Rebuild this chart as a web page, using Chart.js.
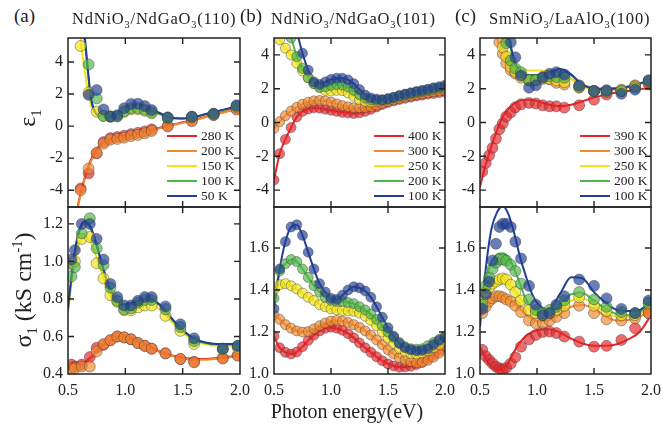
<!DOCTYPE html>
<html><head><meta charset="utf-8">
<script src="https://cdn.jsdelivr.net/npm/chart.js@4.4.1/dist/chart.umd.min.js"></script>
<style>
html,body{margin:0;padding:0;background:#fff;width:663px;height:435px;overflow:hidden;position:relative;font-family:"Liberation Serif","Times New Roman",serif;color:#222;}
canvas{position:absolute;}
.t{position:absolute;white-space:nowrap;z-index:5;line-height:1;}
.t sub{font-size:0.62em;vertical-align:-0.4em;line-height:0;}
.t sup{font-size:0.6em;vertical-align:0.6em;line-height:0;}
.yt{transform:translate(-50%,-50%) rotate(-90deg);font-size:24px;}
.ti{font-size:16.5px;letter-spacing:0.8px;top:11px;}
.lg{position:absolute;z-index:6;font-size:13.5px;}
.lr{height:15px;display:flex;align-items:center;}
.ll{width:30px;height:2.6px;display:inline-block;margin-right:4px;}
</style></head><body>
<div class="t" style="left:14px;top:6px;font-size:19px;">(a)</div>
<div class="t ti" style="left:72px;">NdNiO<sub>3</sub>/NdGaO<sub>3</sub>(110)</div>
<div class="t" style="left:240px;top:6px;font-size:19px;">(b)</div>
<div class="t ti" style="left:271px;">NdNiO<sub>3</sub>/NdGaO<sub>3</sub>(101)</div>
<div class="t" style="left:455px;top:6px;font-size:19px;">(c)</div>
<div class="t ti" style="left:489px;">SmNiO<sub>3</sub>/LaAlO<sub>3</sub>(100)</div>
<div class="t yt" style="left:27px;top:118px;">ε<sub>1</sub></div>
<div class="t yt" style="left:23px;top:290px;">σ<sub>1</sub> (kS cm<sup>-1</sup>)</div>
<div class="t" style="left:347px;top:411px;transform:translate(-50%,-50%);font-size:20px;">Photon energy(eV)</div>
<script>
// ---------- shared ----------
const COLORS = ['#e8252a','#f28a2e','#f2e31b','#4fb748','#223f98'];
const X_TICKS = [0.5,1.0,1.5,2.0];
const EPS_TICKS = [-4,-2,0,2,4];
const A_SIG_TICKS = [0.4,0.6,0.8,1.0,1.2];
const BC_SIG_TICKS = [1.0,1.2,1.4,1.6];
const A_TEMPS = ['280 K','200 K','150 K','100 K','50 K'];
const B_TEMPS = ['400 K','300 K','250 K','200 K','100 K'];
const C_TEMPS = ['390 K','300 K','250 K','200 K','100 K'];
const FIT_X = [0.5,0.55,0.6,0.65,0.7,0.75,0.8,0.85,0.9,0.95,1.0,1.1,1.2,1.3,1.4,1.5,1.6,1.7,1.8,1.9,2.0];

// ---------- panel (a) ----------
const A_EPS_FIT_280 = [-9,-6.4,-4.5,-3.1,-2.1,-1.45,-1.02,-0.84,-0.73,-0.65,-0.58,-0.44,-0.28,-0.1,0.08,0.24,0.4,0.59,0.79,0.97,1.14];
const A_EPS_FIT_200 = [-9,-6.5,-4.6,-3.2,-2.2,-1.55,-1.1,-0.9,-0.78,-0.7,-0.62,-0.48,-0.32,-0.14,0.04,0.2,0.36,0.55,0.75,0.93,1.1];
const A_EPS_FIT_150 = [18,11,6.2,3.2,1.3,0.7,0.6,0.58,0.64,0.78,0.95,1.08,0.95,0.72,0.5,0.47,0.55,0.73,0.91,1.07,1.23];
const A_EPS_FIT_100 = [20,14,8.3,5.0,1.7,0.72,0.6,0.58,0.66,0.82,1.0,1.15,1.0,0.75,0.5,0.47,0.55,0.74,0.92,1.08,1.24];
const A_EPS_FIT_50  = [20,14,8.5,5.3,1.8,0.75,0.62,0.6,0.7,0.9,1.15,1.35,1.15,0.82,0.52,0.48,0.56,0.75,0.93,1.1,1.27];
const A_EPS_X   = [0.61,0.68,0.75,0.81,0.87,0.93,0.99,1.05,1.11,1.17,1.23,1.37,1.58,1.77,1.97];
const A_EPS_280 = [-3.9,-2.95,-1.7,-1.0,-0.75,-0.68,-0.6,-0.5,-0.42,-0.33,-0.2,0.02,0.35,0.72,1.08];
const A_EPS_200 = [-4.0,-2.65,-1.67,-1.1,-0.85,-0.8,-0.72,-0.62,-0.55,-0.45,-0.3,-0.02,0.3,0.68,1.03];
const A_EPS_150 = [5.0,2.1,0.9,0.65,0.58,0.6,0.9,1.05,1.05,0.95,0.8,0.5,0.55,0.72,1.2];
const A_EPS_100 = [null,3.85,1.73,0.63,0.6,0.62,0.92,1.12,1.12,1.02,0.86,0.5,0.57,0.75,1.25];
const A_EPS_50  = [null,1.95,2.25,1.04,0.6,0.68,1.12,1.38,1.4,1.25,1.0,0.55,0.6,0.78,1.3];

const A_SIG_FIT_280 = [0.45,0.445,0.45,0.465,0.49,0.52,0.55,0.572,0.59,0.598,0.598,0.578,0.548,0.52,0.5,0.487,0.48,0.48,0.485,0.492,0.5];
const A_SIG_FIT_200 = [0.43,0.435,0.442,0.457,0.483,0.515,0.545,0.568,0.585,0.594,0.595,0.575,0.545,0.517,0.497,0.483,0.476,0.476,0.481,0.488,0.497];
const A_SIG_FIT_150 = [0.73,0.97,1.1,1.13,1.1,1.02,0.93,0.84,0.785,0.755,0.745,0.76,0.77,0.745,0.68,0.62,0.578,0.558,0.55,0.55,0.552];
const A_SIG_FIT_100 = [0.74,1.0,1.16,1.205,1.17,1.08,0.97,0.87,0.805,0.77,0.76,0.78,0.795,0.765,0.695,0.63,0.585,0.565,0.557,0.557,0.56];
const A_SIG_FIT_50  = [0.755,1.02,1.17,1.215,1.18,1.09,0.98,0.88,0.815,0.78,0.77,0.79,0.805,0.77,0.7,0.635,0.59,0.568,0.56,0.56,0.562];
const A_SIG_X   = [0.53,0.56,0.62,0.69,0.75,0.81,0.87,0.93,0.99,1.05,1.11,1.17,1.23,1.35,1.48,1.6,1.85,1.98];
const A_SIG_280 = [0.45,0.44,0.45,0.49,0.54,0.555,0.58,0.6,0.595,0.585,0.565,0.55,0.535,0.51,0.48,0.465,0.485,0.5];
const A_SIG_200 = [0.43,0.43,0.44,0.44,0.52,0.56,0.58,0.6,0.595,0.585,0.565,0.55,0.535,0.51,0.48,0.462,0.482,0.498];
const A_SIG_150 = [0.99,1.0,1.12,1.13,0.99,0.91,0.82,0.785,0.74,0.74,0.755,0.765,0.765,0.71,0.63,0.56,0.53,0.54];
const A_SIG_100 = [0.92,0.97,1.15,1.23,1.07,0.98,0.86,0.79,0.745,0.75,0.78,0.795,0.795,0.745,0.65,0.575,0.535,0.55];
const A_SIG_50  = [1.01,1.06,1.2,1.2,1.12,1.01,0.88,0.81,0.765,0.765,0.79,0.81,0.81,0.76,0.665,0.59,0.535,0.55];

// ---------- panel (b) ----------
const B_X = [0.5,0.55,0.6,0.65,0.7,0.75,0.8,0.85,0.9,0.95,1.0,1.05,1.1,1.15,1.2,1.25,1.3,1.35,1.4,1.45,1.5,1.55,1.6,1.65,1.7,1.75,1.8,1.85,1.9,1.95,2.0];
const B_EPS_400 = [-3.4,-1.85,-1.0,-0.3,0.33,0.65,0.8,0.87,0.85,0.78,0.72,0.66,0.6,0.56,0.53,0.57,0.66,0.78,0.92,1.06,1.18,1.28,1.36,1.43,1.5,1.57,1.62,1.68,1.72,1.77,1.8];
const B_EPS_300 = [-0.35,0.05,0.4,0.68,0.9,1.08,1.2,1.28,1.3,1.28,1.2,1.1,1.0,0.93,0.88,0.87,0.88,0.93,1.02,1.13,1.24,1.33,1.41,1.5,1.57,1.64,1.7,1.76,1.81,1.86,1.9];
const B_EPS_250 = [5.8,4.9,4.4,4.0,3.5,3.05,2.65,2.3,2.05,1.9,1.86,1.9,1.88,1.75,1.55,1.35,1.25,1.22,1.25,1.3,1.37,1.45,1.53,1.61,1.69,1.76,1.83,1.89,1.95,2.0,2.05];
const B_EPS_200 = [7.5,6.5,5.7,5.0,3.9,3.2,2.65,2.3,2.1,2.1,2.2,2.25,2.22,2.1,1.9,1.65,1.45,1.35,1.32,1.33,1.4,1.48,1.57,1.65,1.73,1.8,1.87,1.93,2.0,2.06,2.12];
const B_EPS_100 = [9,8,7,6,5.3,4.1,3.1,2.4,2.25,2.4,2.55,2.62,2.62,2.52,2.3,1.95,1.62,1.45,1.38,1.35,1.4,1.5,1.6,1.68,1.76,1.83,1.9,1.97,2.05,2.12,2.2];
const B_SIG_400 = [1.18,1.125,1.103,1.095,1.105,1.13,1.16,1.185,1.205,1.218,1.223,1.218,1.208,1.192,1.172,1.148,1.125,1.103,1.082,1.063,1.048,1.038,1.032,1.033,1.037,1.045,1.055,1.072,1.09,1.11,1.13];
const B_SIG_300 = [1.28,1.26,1.235,1.218,1.205,1.2,1.202,1.215,1.23,1.243,1.252,1.255,1.252,1.245,1.235,1.222,1.205,1.185,1.162,1.14,1.115,1.095,1.078,1.066,1.058,1.054,1.056,1.065,1.08,1.1,1.135];
const B_SIG_250 = [1.4,1.425,1.43,1.42,1.405,1.385,1.365,1.35,1.33,1.32,1.31,1.305,1.302,1.3,1.298,1.29,1.275,1.255,1.23,1.2,1.17,1.145,1.12,1.105,1.097,1.095,1.1,1.11,1.125,1.14,1.16];
const B_SIG_200 = [1.36,1.49,1.525,1.545,1.535,1.5,1.46,1.42,1.39,1.365,1.35,1.345,1.345,1.34,1.335,1.32,1.305,1.285,1.26,1.23,1.2,1.175,1.15,1.13,1.12,1.118,1.12,1.135,1.15,1.165,1.18];
const B_SIG_100 = [1.31,1.5,1.63,1.7,1.71,1.66,1.58,1.5,1.43,1.39,1.36,1.355,1.375,1.4,1.415,1.41,1.395,1.365,1.32,1.27,1.22,1.18,1.145,1.125,1.115,1.11,1.112,1.12,1.14,1.16,1.175];

// ---------- panel (c) ----------
const C_EPS_FIT_390 = [-3.8,-2.5,-1.4,-0.45,0.35,0.82,1.12,1.28,1.35,1.33,1.27,1.06,0.96,1.05,1.26,1.47,1.65,1.78,1.87,1.96,2.06];
const C_EPS_FIT_300 = [9,7.5,6.2,5.0,3.95,3.25,2.95,2.85,2.78,2.75,2.73,2.76,2.74,2.58,2.17,1.94,1.92,1.97,2.08,2.3,2.47];
const C_EPS_FIT_250 = [12,10,8,6.3,5.0,3.9,3.4,3.2,3.1,3.08,3.08,3.06,2.98,2.55,2.16,2.0,2.0,2.06,2.16,2.32,2.5];
const C_EPS_FIT_200 = [14,12,10,8,6.2,4.9,3.6,3.0,2.85,2.8,2.8,2.9,3.02,2.78,2.25,2.03,1.98,2.02,2.12,2.3,2.48];
const C_EPS_FIT_100 = [15,13,11,9,7,5.2,3.7,3.0,2.82,2.78,2.78,2.95,3.17,2.85,2.22,2.03,2.0,2.02,2.12,2.3,2.48];
const C_X = [0.52,0.55,0.58,0.61,0.64,0.67,0.70,0.73,0.77,0.81,0.86,0.93,0.99,1.05,1.11,1.17,1.24,1.37,1.50,1.61,1.74,1.86,1.98];
const C_EPS_390 = [-2.9,-2.4,-1.95,-1.5,-0.95,-0.4,-0.05,0.35,0.6,0.9,1.08,1.16,1.12,1.02,0.96,0.96,0.88,1.02,1.35,1.65,1.85,2.14,2.25];
const C_EPS_300 = [null,null,null,null,null,4.75,4.06,3.5,3.1,2.9,2.69,2.49,2.5,2.6,2.55,2.35,2.25,2.06,1.86,1.8,1.94,2.2,2.39];
const C_EPS_250 = [null,null,null,null,null,null,4.45,3.9,3.3,3.0,2.65,2.49,2.49,2.59,2.59,2.49,2.39,2.1,1.86,1.9,1.9,2.14,2.45];
const C_EPS_200 = [null,null,null,null,null,null,null,4.7,3.67,3.2,2.98,2.53,2.53,2.65,2.73,2.69,2.65,2.14,1.86,1.86,1.86,2.06,2.49];
const C_EPS_100 = [null,null,null,null,null,null,null,null,4.75,3.86,2.78,2.06,2.2,2.69,2.88,2.98,2.84,2.2,1.86,1.9,1.7,1.94,2.49];
const C_SIG_FIT_390 = [1.13,1.075,1.035,1.02,1.025,1.055,1.107,1.15,1.18,1.197,1.208,1.213,1.198,1.168,1.145,1.134,1.134,1.142,1.165,1.2,1.28];
const C_SIG_FIT_300 = [1.31,1.345,1.362,1.37,1.37,1.355,1.335,1.31,1.285,1.265,1.252,1.255,1.285,1.32,1.328,1.31,1.275,1.255,1.257,1.272,1.305];
const C_SIG_FIT_250 = [1.32,1.39,1.425,1.442,1.45,1.43,1.4,1.36,1.325,1.3,1.275,1.275,1.31,1.35,1.36,1.33,1.295,1.273,1.27,1.285,1.32];
const C_SIG_FIT_200 = [1.31,1.45,1.53,1.57,1.575,1.555,1.5,1.43,1.36,1.315,1.295,1.29,1.33,1.38,1.385,1.35,1.31,1.285,1.28,1.295,1.34];
const C_SIG_FIT_100 = [1.226,1.5,1.69,1.77,1.80,1.76,1.67,1.56,1.47,1.39,1.34,1.305,1.38,1.46,1.455,1.39,1.34,1.305,1.30,1.305,1.35];
const C_SIG_390 = [1.115,1.085,1.067,1.05,1.035,1.027,1.022,1.03,1.05,1.08,1.13,1.165,1.186,1.2,1.202,1.195,1.178,1.154,1.13,1.134,1.162,1.218,1.29];
const C_SIG_300 = [1.29,1.32,1.345,1.36,1.37,1.37,1.365,1.355,1.345,1.325,1.295,1.255,1.242,1.242,1.255,1.272,1.29,1.325,1.29,1.26,1.255,1.265,1.29];
const C_SIG_250 = [1.36,1.39,1.41,1.43,1.44,1.45,1.455,1.45,1.425,1.39,1.35,1.305,1.29,1.28,1.29,1.305,1.325,1.365,1.325,1.30,1.28,1.28,1.335];
const C_SIG_200 = [1.33,1.42,1.46,1.5,1.53,1.545,1.545,1.54,1.52,1.49,1.43,1.355,1.305,1.29,1.305,1.32,1.35,1.39,1.355,1.32,1.295,1.29,1.34];
const C_SIG_100 = [1.31,1.38,1.44,1.54,1.62,1.70,1.715,1.715,1.70,1.63,1.55,1.42,1.33,1.28,1.29,1.33,1.37,1.45,1.42,1.36,1.31,1.29,1.35];

// ---------- drawing ----------
const FONT = '"Liberation Serif","Times New Roman",serif';
function hexA(h,a){const n=parseInt(h.slice(1),16);return 'rgba('+((n>>16)&255)+','+((n>>8)&255)+','+(n&255)+','+a+')';}
function pts(xs,ys){return xs.map((x,i)=>({x:x,y:ys[i]}));}

const framePlugin = {
  id:'frame',
  afterDatasetsDraw(chart){
    const ctx=chart.ctx, a=chart.chartArea, sx=chart.scales.x, sy=chart.scales.y;
    ctx.save();
    ctx.strokeStyle='#222'; ctx.lineWidth=1.5;
    ctx.strokeRect(a.left,a.top,a.right-a.left,a.bottom-a.top);
    ctx.lineWidth=1.4; const L=6;
    ctx.beginPath();
    sx.ticks.forEach(t=>{const p=sx.getPixelForValue(t.value); if(p<=a.left+1||p>=a.right-1)return;
      ctx.moveTo(p,a.bottom); ctx.lineTo(p,a.bottom-L); ctx.moveTo(p,a.top); ctx.lineTo(p,a.top+L);});
    sy.ticks.forEach(t=>{const p=sy.getPixelForValue(t.value); if(p<=a.top+1||p>=a.bottom-1)return;
      ctx.moveTo(a.left,p); ctx.lineTo(a.left+L,p); ctx.moveTo(a.right,p); ctx.lineTo(a.right-L,p);});
    ctx.stroke();
    ctx.restore();
  }
};

function makePanel(cfg){
  const YW=50, PT=10, PR=12;
  const XH = cfg.showX ? 34 : 2;
  const w = YW+(cfg.r-cfg.l)+PR, h = PT+(cfg.b-cfg.t)+XH;
  const cv=document.createElement('canvas');
  cv.width=w; cv.height=h;
  cv.style.left=(cfg.l-YW)+'px'; cv.style.top=(cfg.t-PT)+'px';
  cv.style.width=w+'px'; cv.style.height=h+'px';
  document.body.appendChild(cv);
  const ds=[];
  cfg.fits.forEach((f,i)=>ds.push({data:pts(cfg.fitX,f),showLine:true,borderColor:COLORS[i],borderWidth:2,
    pointRadius:0,cubicInterpolationMode:'monotone',fill:false,order:20-i}));
  cfg.pts.forEach((p,i)=>ds.push({data:pts(cfg.ptsX,p),showLine:false,pointRadius:cfg.r0||5,
    backgroundColor:hexA(COLORS[i],0.68),borderColor:'rgba(60,60,60,0.55)',borderWidth:0.8,order:10-i}));
  new Chart(cv,{
    type:'scatter',
    data:{datasets:ds},
    options:{
      responsive:false,animation:false,events:[],
      layout:{padding:{top:PT,right:PR,left:0,bottom:0},autoPadding:false},
      plugins:{legend:{display:false},tooltip:{enabled:false}},
      scales:{
        x:{type:'linear',min:0.5,max:2.0,grid:{display:false,drawTicks:false},border:{display:false},
          ticks:{display:cfg.showX,padding:7,color:'#222',font:{family:FONT,size:16},callback:v=>Number(v).toFixed(1)},
          afterBuildTicks:s=>{s.ticks=X_TICKS.map(v=>({value:v}));},
          afterFit:s=>{s.height=XH;s.paddingLeft=0;s.paddingRight=0;}},
        y:{type:'linear',min:cfg.yMin,max:cfg.yMax,grid:{display:false,drawTicks:false},border:{display:false},
          ticks:{padding:5,color:'#222',font:{family:FONT,size:16},callback:cfg.yFmt},
          afterBuildTicks:s=>{s.ticks=cfg.yTicks.map(v=>({value:v}));},
          afterFit:s=>{s.width=YW;s.paddingTop=0;s.paddingBottom=0;}}
      }
    },
    plugins:[framePlugin]
  });
}

function legend(x0,labels){
  const box=document.createElement('div'); box.className='lg';
  box.style.left=x0+'px'; box.style.top='128.5px';
  labels.forEach((t,i)=>{const row=document.createElement('div'); row.className='lr';
    row.innerHTML='<span class="ll" style="background:'+COLORS[i]+'"></span><span>'+t+'</span>';
    box.appendChild(row);});
  document.body.appendChild(box);
}

const intFmt=v=>String(v), decFmt=v=>Number(v).toFixed(1);
const TOP={t:38,b:207}, BOT={t:207,b:374};
const COLS=[{l:68,r:240},{l:274,r:445},{l:480,r:651}];

makePanel(Object.assign({},COLS[0],TOP,{showX:false,yMin:-5.05,yMax:5.5,yTicks:EPS_TICKS,yFmt:intFmt,r0:5.5,
  fitX:FIT_X,fits:[A_EPS_FIT_280,A_EPS_FIT_200,A_EPS_FIT_150,A_EPS_FIT_100,A_EPS_FIT_50],
  ptsX:A_EPS_X,pts:[A_EPS_280,A_EPS_200,A_EPS_150,A_EPS_100,A_EPS_50]}));
makePanel(Object.assign({},COLS[0],BOT,{showX:true,yMin:0.4,yMax:1.29,yTicks:A_SIG_TICKS,yFmt:decFmt,r0:5.5,
  fitX:FIT_X,fits:[A_SIG_FIT_280,A_SIG_FIT_200,A_SIG_FIT_150,A_SIG_FIT_100,A_SIG_FIT_50],
  ptsX:A_SIG_X,pts:[A_SIG_280,A_SIG_200,A_SIG_150,A_SIG_100,A_SIG_50]}));
makePanel(Object.assign({},COLS[1],TOP,{showX:false,yMin:-5,yMax:5,yTicks:EPS_TICKS,yFmt:intFmt,
  fitX:B_X,fits:[B_EPS_400,B_EPS_300,B_EPS_250,B_EPS_200,B_EPS_100],
  ptsX:B_X,pts:[B_EPS_400,B_EPS_300,B_EPS_250,B_EPS_200,B_EPS_100]}));
makePanel(Object.assign({},COLS[1],BOT,{showX:true,yMin:1.0,yMax:1.795,yTicks:BC_SIG_TICKS,yFmt:decFmt,
  fitX:B_X,fits:[B_SIG_400,B_SIG_300,B_SIG_250,B_SIG_200,B_SIG_100],
  ptsX:B_X,pts:[B_SIG_400,B_SIG_300,B_SIG_250,B_SIG_200,B_SIG_100]}));
makePanel(Object.assign({},COLS[2],TOP,{showX:false,yMin:-5,yMax:5,yTicks:EPS_TICKS,yFmt:intFmt,r0:5.5,
  fitX:FIT_X,fits:[C_EPS_FIT_390,C_EPS_FIT_300,C_EPS_FIT_250,C_EPS_FIT_200,C_EPS_FIT_100],
  ptsX:C_X,pts:[C_EPS_390,C_EPS_300,C_EPS_250,C_EPS_200,C_EPS_100]}));
makePanel(Object.assign({},COLS[2],BOT,{showX:true,yMin:1.0,yMax:1.795,yTicks:BC_SIG_TICKS,yFmt:decFmt,r0:5.5,
  fitX:FIT_X,fits:[C_SIG_FIT_390,C_SIG_FIT_300,C_SIG_FIT_250,C_SIG_FIT_200,C_SIG_FIT_100],
  ptsX:C_X,pts:[C_SIG_390,C_SIG_300,C_SIG_250,C_SIG_200,C_SIG_100]}));

legend(167,A_TEMPS);
legend(374,B_TEMPS);
legend(580,C_TEMPS);
</script>
</body></html>
